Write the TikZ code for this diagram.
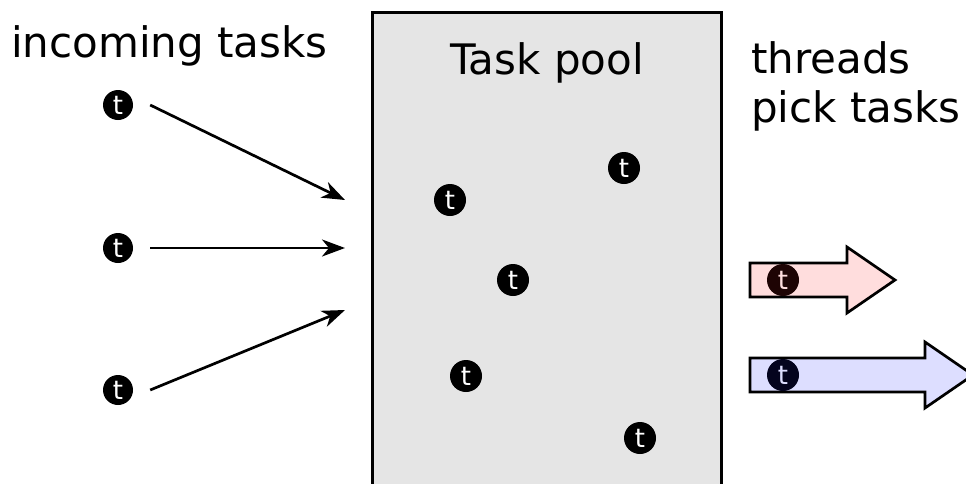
\documentclass[tikz,border=0pt]{standalone}
\usepackage{fontspec}
\setmainfont{DejaVu Sans}
\usetikzlibrary{arrows.meta}
\definecolor{poolgray}{RGB}{229,229,229}
\definecolor{pinkfill}{RGB}{255,221,221}
\definecolor{bluefill}{RGB}{221,222,255}
\definecolor{pinkdot}{RGB}{30,4,4}
\definecolor{bluedot}{RGB}{4,4,30}
\begin{document}
\begin{tikzpicture}[x=1pt,y=-1pt,
  task/.style={circle,fill=black,inner sep=0pt,minimum size=30pt,text=white,
    font=\fontsize{26}{26}\selectfont},
  bigtask/.style={task,minimum size=32pt},
  label/.style={inner sep=0pt,font=\fontsize{42}{49}\selectfont},
  arr/.style={line width=2.7pt,-{Stealth[length=23pt,width=17pt,inset=7pt]}},
  thread/.style={draw=black,line width=2.7pt,line join=miter}]
\useasboundingbox (0,0) rectangle (966,483);
\clip (0,0) rectangle (966,483);
% pool
\node (pool) [rectangle,draw,line width=3.2pt,fill=poolgray,anchor=north west,
  minimum width=349pt,minimum height=500pt,inner sep=0pt] at (371,11) {};
\node (pooltitle) [label,anchor=base] at (547,74) {Task pool};
\node (inlabel) [label,anchor=base west] at (11,57) {incoming tasks};
\node (thrlabel) [label,anchor=base west,align=left] at (751,122) {threads\\pick tasks};
% incoming tasks
\node (d1) [task] at (118,105) {t};
\node (d2) [task] at (118,248) {t};
\node (d3) [task] at (118,390) {t};
\coordinate (in1) at (345,200);
\coordinate (in2) at (345,248);
\coordinate (in3) at (345,310);
\draw[arr] ([xshift=17pt]d1.east) -- (in1);
\draw[arr] ([xshift=17pt]d2.east) -- (in2);
\draw[arr] ([xshift=17pt]d3.east) -- (in3);
% tasks in pool
\node (p1) [bigtask] at (624,168) {t};
\node (p2) [bigtask] at (450,200) {t};
\node (p3) [bigtask] at (513,280) {t};
\node (p4) [bigtask] at (466,376) {t};
\node (p5) [bigtask] at (640,438) {t};
% threads
\draw[thread,fill=pinkfill] (750,263) -- (847,263) -- (847,247) -- (895,280)
  -- (847,313) -- (847,297) -- (750,297) -- cycle;
\draw[thread,fill=bluefill] (750,358) -- (925,358) -- (925,342) -- (973,375)
  -- (925,408) -- (925,392) -- (750,392) -- cycle;
\node (t1) [bigtask,fill=pinkdot,text=pinkfill] at (783,280) {t};
\node (t2) [bigtask,fill=bluedot,text=bluefill] at (783,375) {t};
\end{tikzpicture}
\end{document}
